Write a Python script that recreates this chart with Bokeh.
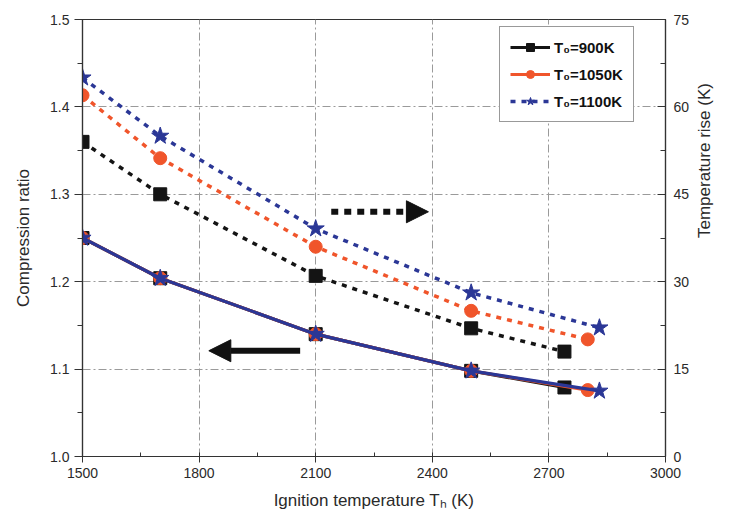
import math
from bokeh.plotting import figure
from bokeh.models import (Range1d, LinearAxis, Legend, LegendItem, Arrow, NormalHead,
                          SingleIntervalTicker, FixedTicker, PrintfTickFormatter)
from bokeh.embed import file_html
from bokeh.resources import INLINE

# ---- data ----
series_labels = ["T\u2080=900K", "T\u2080=1050K", "T\u2080=1100K"]
colors = ["#141414", "#f0552b", "#2b3796"]
markers = ["square", "circle", "star"]

th_900 = [1500, 1700, 2100, 2500, 2740]
th_1050 = [1500, 1700, 2100, 2500, 2800]
th_1100 = [1500, 1700, 2100, 2500, 2830]

cr_900 = [1.250, 1.204, 1.140, 1.098, 1.079]
cr_1050 = [1.250, 1.204, 1.140, 1.098, 1.076]
cr_1100 = [1.250, 1.204, 1.140, 1.098, 1.075]

dt_900 = [54.0, 45.0, 31.0, 22.0, 18.0]
dt_1050 = [62.0, 51.2, 36.0, 25.0, 20.1]
dt_1100 = [65.0, 55.0, 39.1, 28.1, 22.1]

x_ticks = [1500, 1800, 2100, 2400, 2700, 3000]
y_ticks = [1.0, 1.1, 1.2, 1.3, 1.4, 1.5]
y2_ticks = [0, 15, 30, 45, 60, 75]

# arrow annotations (data units)
arrow_right = dict(x0=2140, x1=2390, y=42.0)   # on temperature axis
arrow_left = dict(x0=2060, x1=1825, y=1.121)   # on compression-ratio axis

FONT = "Liberation Sans"
TXT = "#2a2a2a"

p = figure(width=726, height=512, output_backend="svg", toolbar_location=None,
           x_range=Range1d(1500, 3000), y_range=Range1d(1.0, 1.5),
           min_border_left=82, min_border_right=53, min_border_top=19, min_border_bottom=53)
p.extra_y_ranges = {"temp": Range1d(0, 75)}

p.outline_line_color = "#333333"
p.outline_line_width = 1.2
p.background_fill_color = "white"
p.border_fill_color = "white"

# grid
p.xgrid.ticker = FixedTicker(ticks=x_ticks[1:-1])
p.ygrid.ticker = FixedTicker(ticks=y_ticks[1:-1])
for g in (p.xgrid, p.ygrid):
    g.grid_line_color = "#9a9a9a"
    g.grid_line_dash = "8 3 2 3"
    g.grid_line_width = 1

# axes
xa = p.xaxis[0]
xa.ticker = SingleIntervalTicker(interval=300, num_minor_ticks=2)
xa.axis_label = "Ignition temperature T\u2095 (K)"
ya = p.yaxis[0]
ya.ticker = SingleIntervalTicker(interval=0.1, num_minor_ticks=2)
ya.axis_label = "Compression ratio"
ya.formatter = PrintfTickFormatter(format="%.1f")
ya2 = LinearAxis(y_range_name="temp", axis_label="Temperature rise (K)",
                 ticker=SingleIntervalTicker(interval=15, num_minor_ticks=2))
ya2.axis_label_orientation = math.pi / 2
p.add_layout(ya2, "right")

for ax in (xa, ya, ya2):
    ax.axis_line_color = "#333333"
    ax.axis_line_width = 1.2
    ax.major_tick_line_color = "#333333"
    ax.minor_tick_line_color = "#333333"
    ax.major_label_text_font = FONT
    ax.major_label_text_font_size = "14px"
    ax.major_label_text_color = TXT
    ax.axis_label_text_font = FONT
    ax.axis_label_text_font_size = "17px"
    ax.axis_label_text_font_style = "normal"
    ax.axis_label_text_color = TXT
xa.major_tick_out = 6
xa.major_tick_in = 0
xa.minor_tick_out = 0
xa.minor_tick_in = 4
ya.major_tick_out = 8
ya.major_tick_in = 0
ya.minor_tick_out = 5
ya.minor_tick_in = 0
ya2.major_tick_in = 8
ya2.major_tick_out = 0
ya2.minor_tick_in = 5
ya2.minor_tick_out = 0
ya2.major_label_standoff = 8
xa.major_label_standoff = 5
xa.axis_label_standoff = 10
ya.axis_label_standoff = 14
ya2.axis_label_standoff = 12

ths = [th_900, th_1050, th_1100]
crs = [cr_900, cr_1050, cr_1100]
dts = [dt_900, dt_1050, dt_1100]
sizes = [13, 13, 18]

legend_items = []
for i in range(3):
    c = colors[i]
    solid = p.line(ths[i], crs[i], line_color=c, line_width=3.2)
    dot = p.line(ths[i], dts[i], line_color=c, line_width=3.5, line_dash="5 6",
                 y_range_name="temp")
    m1 = p.scatter(ths[i], crs[i], marker=markers[i], size=sizes[i],
                   fill_color=c, line_color=c)
    m2 = p.scatter(ths[i], dts[i], marker=markers[i], size=sizes[i],
                   fill_color=c, line_color=c, y_range_name="temp")
    if i == 2:
        legend_items.append(LegendItem(label=series_labels[i], renderers=[dot, m2]))
    else:
        legend_items.append(LegendItem(label=series_labels[i], renderers=[solid, m1]))

# arrows
p.add_layout(Arrow(x_start=arrow_right["x0"], x_end=arrow_right["x1"],
                   y_start=arrow_right["y"], y_end=arrow_right["y"], y_range_name="temp",
                   line_color="#111111", line_width=6, line_dash="7 6",
                   end=NormalHead(size=22, fill_color="#111111", line_color="#111111")))
p.add_layout(Arrow(x_start=arrow_left["x0"], x_end=arrow_left["x1"],
                   y_start=arrow_left["y"], y_end=arrow_left["y"],
                   line_color="#111111", line_width=6,
                   end=NormalHead(size=22, fill_color="#111111", line_color="#111111")))

legend = Legend(items=legend_items,
                label_text_font=FONT, label_text_font_size="15px",
                label_text_font_style="bold", label_text_color="#111111",
                border_line_color="#333333", border_line_width=1.2,
                glyph_width=40, glyph_height=20, spacing=7,
                padding=10, margin=0, label_standoff=4,
                background_fill_alpha=1)
legend.location = (417, 334)
p.add_layout(legend, "center")

open("out.html", "w").write(file_html(p, INLINE))
